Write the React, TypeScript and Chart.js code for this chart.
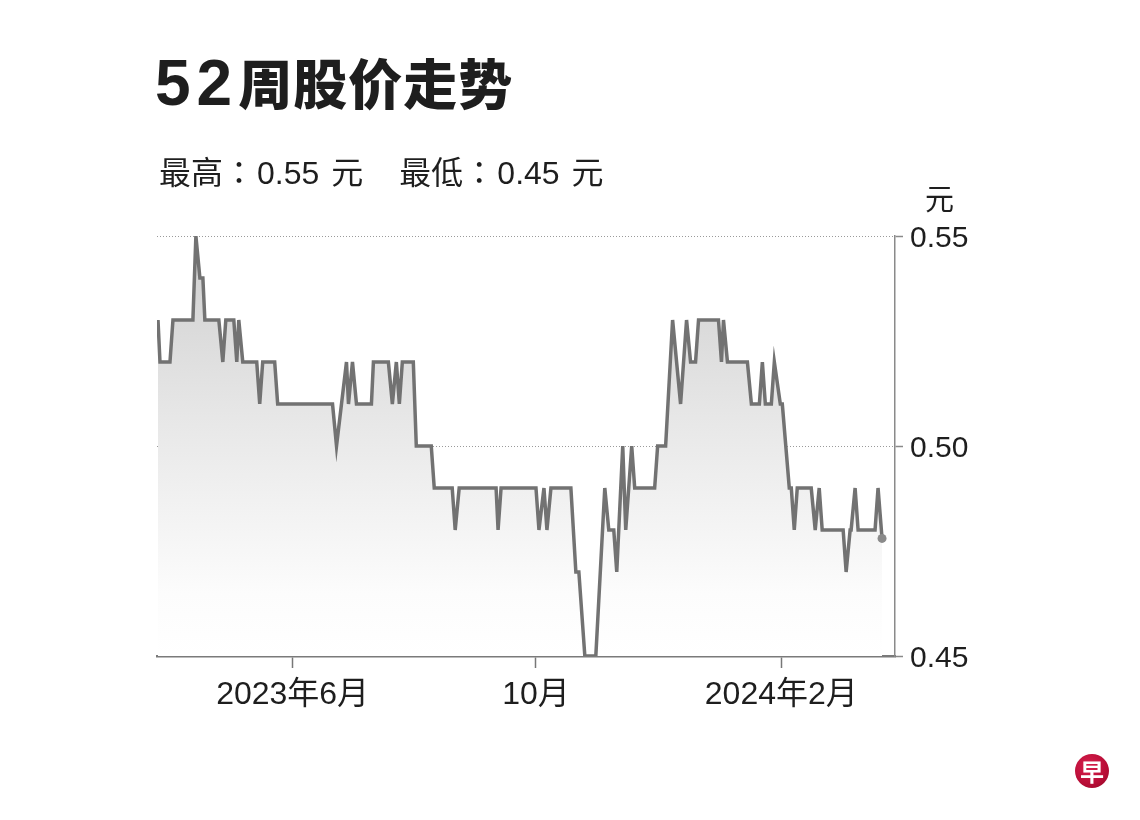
import React, { useEffect, useRef } from "react";
import { Chart, registerables } from "chart.js";

Chart.register(...registerables);

// Day offsets counted from 2023-03-25
const dayOffsets = [
  0.5, 1.5, 6.5, 8, 18, 19.5, 21.5, 23, 24, 31, 33, 34.5, 38.5, 40, 41, 43, 50, 51.5, 53, 59, 60.5,
  88, 90, 92.5, 95, 96, 98, 100, 107.5, 108.5, 116, 118, 120, 121.5, 123, 128.5, 130, 137.5, 139,
  148, 149.5, 151.5, 170, 171, 172.5, 190, 191.5, 194, 195.5, 197.5, 207.5, 210, 211.5, 214.5, 220,
  224.5, 226.5, 229, 230.5, 233.5, 235, 238, 239.5, 249.5, 251, 255, 258.5, 262.5, 265.5, 267.5,
  270, 271.5, 281.5, 283, 284, 286, 296, 298, 302, 303.5, 305, 308, 309.5, 312.5, 313.5, 317, 318,
  319.5, 321, 328, 330, 332, 333.5, 344, 345.5, 347.5, 348, 350, 351.5, 360, 361.5, 363.5,
];

const prices = [
  0.53, 0.52, 0.52, 0.53, 0.53, 0.55, 0.54, 0.54, 0.53, 0.53, 0.52, 0.53, 0.53, 0.52, 0.53, 0.52,
  0.52, 0.51, 0.52, 0.52, 0.51, 0.51, 0.5, 0.51, 0.52, 0.51, 0.52, 0.51, 0.51, 0.52, 0.52, 0.51,
  0.52, 0.51, 0.52, 0.52, 0.5, 0.5, 0.49, 0.49, 0.48, 0.49, 0.49, 0.48, 0.49, 0.49, 0.48, 0.49,
  0.48, 0.49, 0.49, 0.47, 0.47, 0.45, 0.45, 0.49, 0.48, 0.48, 0.47, 0.5, 0.48, 0.5, 0.49, 0.49,
  0.5, 0.5, 0.53, 0.51, 0.53, 0.52, 0.52, 0.53, 0.53, 0.52, 0.53, 0.52, 0.52, 0.51, 0.51, 0.52,
  0.51, 0.51, 0.52, 0.51, 0.51, 0.49, 0.49, 0.48, 0.49, 0.49, 0.48, 0.49, 0.48, 0.48, 0.47, 0.48,
  0.48, 0.49, 0.48, 0.48, 0.49, 0.478,
];

const xTickDays = [68, 190, 313];
const xTickLabels = ["2023年6月", "10月", "2024年2月"];
const yTickValues = [0.45, 0.5, 0.55];

const highLabel = "最高：";
const highValue = "0.55";
const lowLabel = "最低：";
const lowValue = "0.45";
const unit = "元";

const xMin = 0;
const xMax = 370;
const yMin = 0.45;
const yMax = 0.55;

const LATIN = '"Liberation Sans", "Noto Sans CJK SC", sans-serif';
const SUB = '"Liberation Sans", "Noto Sans CJK TC", sans-serif';

export default function App() {
  const canvasRef = useRef<HTMLCanvasElement | null>(null);

  useEffect(() => {
    const canvas = canvasRef.current;
    if (!canvas) return;
    const points = dayOffsets.map((d, i) => ({ x: d, y: prices[i] }));
    const lastIndex = points.length - 1;

    const chart = new Chart(canvas, {
      type: "line",
      data: {
        datasets: [
          {
            data: points,
            borderColor: "#727272",
            borderWidth: 3.5,
            tension: 0,
            fill: "start",
            backgroundColor: (ctx: any) => {
              const { chart } = ctx;
              const area = chart.chartArea;
              if (!area) return "rgba(0,0,0,0)";
              const g = chart.ctx.createLinearGradient(0, area.top, 0, area.bottom);
              g.addColorStop(0, "#cecece");
              g.addColorStop(0.45, "#e8e8e8");
              g.addColorStop(0.85, "#fcfcfc");
              g.addColorStop(1, "#ffffff");
              return g;
            },
            pointRadius: (ctx: any) => (ctx.dataIndex === lastIndex ? 4.5 : 0),
            pointBackgroundColor: "#8a8a8a",
            pointBorderWidth: 0,
            pointHoverRadius: 0,
          },
        ],
      },
      options: {
        animation: false,
        responsive: false,
        devicePixelRatio: 1,
        events: [],
        layout: {
          padding: { left: 157, right: 155, top: 236, bottom: 84 },
        },
        plugins: {
          legend: { display: false },
          tooltip: { enabled: false },
        },
        scales: {
          x: {
            type: "linear",
            min: xMin,
            max: xMax,
            afterBuildTicks: (s: any) => {
              s.ticks = xTickDays.map((v) => ({ value: v }));
            },
            afterFit: (s: any) => {
              s.height = 80;
            },
            ticks: {
              autoSkip: false,
              maxRotation: 0,
              padding: 8,
              color: "#1e1e1e",
              font: { family: LATIN, size: 32 },
              callback: (_v: any, i: number) => xTickLabels[i],
            },
            grid: {
              drawOnChartArea: false,
              drawTicks: true,
              tickLength: 12,
              tickColor: "#777",
              tickWidth: 1.5,
            },
            border: { color: "#7a7a7a", width: 2.5 },
          },
          y: {
            type: "linear",
            position: "right",
            min: yMin,
            max: yMax,
            afterBuildTicks: (s: any) => {
              s.ticks = yTickValues.map((v) => ({ value: v }));
            },
            afterFit: (s: any) => {
              s.width = 90;
            },
            ticks: {
              padding: 7,
              labelOffset: 3,
              color: "#1e1e1e",
              font: { family: LATIN, size: 30 },
              callback: (v: any) => Number(v).toFixed(2),
            },
            grid: {
              color: (c: any) =>
                c.tick && Math.abs(c.tick.value - yMin) < 1e-6 ? "rgba(0,0,0,0)" : "#9a9a9a",
              lineWidth: 1,
              tickLength: 8,
              tickColor: "#8a8a8a",
              tickWidth: 1.5,
              tickBorderDash: [],
            },
            border: { color: "#8a8a8a", width: 1.5, dash: [1, 2] },
          },
        },
      },
    } as any);

    return () => {
      chart.destroy();
    };
  }, []);

  return (
    <div
      style={{
        position: "fixed",
        left: 0,
        top: 0,
        width: 1140,
        height: 820,
        background: "#ffffff",
        overflow: "hidden",
      }}
    >
      <canvas
        ref={canvasRef}
        width={1140}
        height={820}
        style={{ position: "absolute", left: 0, top: 0, width: 1140, height: 820 }}
      />
      <div
        style={{
          position: "absolute",
          left: 155,
          top: 50,
          fontFamily: '"Noto Sans CJK SC", sans-serif',
          fontWeight: 900,
          fontSize: 54,
          lineHeight: "64px",
          color: "#1e1e1e",
          whiteSpace: "nowrap",
        }}
      >
        <span style={{ fontFamily: '"Liberation Sans", sans-serif', fontWeight: 700, fontSize: 64, letterSpacing: 6 }}>
          52
        </span>
        <span style={{ letterSpacing: 1 }}>周股价走势</span>
      </div>
      <div
        style={{
          position: "absolute",
          left: 159,
          top: 153,
          fontFamily: SUB,
          fontSize: 32,
          lineHeight: "40px",
          color: "#1e1e1e",
          whiteSpace: "nowrap",
        }}
      >
        <span>{highLabel}</span>
        <span style={{ marginLeft: 2 }}>{highValue}</span>
        <span style={{ marginLeft: 12 }}>{unit}</span>
        <span style={{ marginLeft: 36 }}>{lowLabel}</span>
        <span style={{ marginLeft: 2 }}>{lowValue}</span>
        <span style={{ marginLeft: 12 }}>{unit}</span>
      </div>
      <div
        style={{
          position: "absolute",
          left: 925,
          top: 180,
          fontFamily: '"Noto Sans CJK SC", sans-serif',
          fontSize: 29,
          lineHeight: "34px",
          color: "#1e1e1e",
        }}
      >
        {unit}
      </div>
      <div
        style={{
          position: "absolute",
          left: 1075,
          top: 754,
          width: 34,
          height: 34,
          borderRadius: "50%",
          background: "radial-gradient(circle at 40% 35%, #d8204e 0%, #b80d36 60%, #8e0626 100%)",
          color: "#ffffff",
          fontFamily: '"Noto Sans CJK SC", sans-serif',
          fontWeight: 700,
          fontSize: 24,
          lineHeight: "34px",
          textAlign: "center",
        }}
      >
        早
      </div>
    </div>
  );
}
